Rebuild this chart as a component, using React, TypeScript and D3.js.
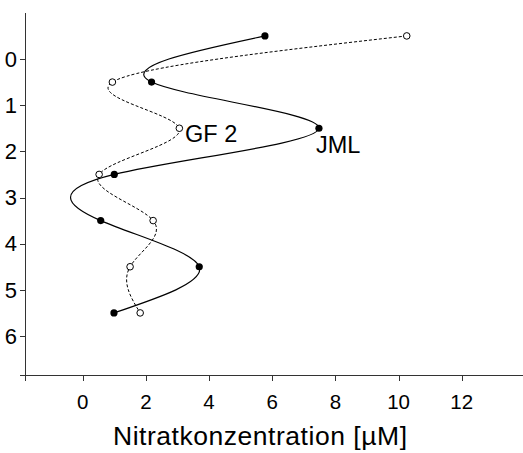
import React from "react";
import * as d3 from "d3";

const depths = [-0.5, 0.5, 1.5, 2.5, 3.5, 4.5, 5.5];
const jml = [5.77, 2.18, 7.48, 1.0, 0.57, 3.69, 0.99];
const gf2 = [10.26, 0.94, 3.06, 0.52, 2.23, 1.5, 1.82];
const xTicks = [0, 2, 4, 6, 8, 10, 12];
const yTicks = [0, 1, 2, 3, 4, 5, 6];
const xTitle = "Nitratkonzentration [µM]";

const W = 523;
const H = 453;
const FONT = "'Liberation Sans', Arial, sans-serif";

export default function App() {
  const x = d3.scaleLinear().domain([0, 12]).range([82.7, 461.7]);
  const y = d3.scaleLinear().domain([0, 6]).range([59, 336]);
  const line = d3
    .line<[number, number]>()
    .x((d) => x(d[0]))
    .y((d) => y(d[1]))
    .curve(d3.curveNatural);
  const jmlPts: [number, number][] = jml.map((v, i) => [v, depths[i]]);
  const gfPts: [number, number][] = gf2.map((v, i) => [v, depths[i]]);
  const axisColor = "#333";
  return (
    <svg
      width={W}
      height={H}
      style={{ position: "absolute", left: 0, top: 0, background: "#fff" }}
      fontFamily={FONT}
    >
      {/* axes */}
      <line x1={25.5} x2={25.5} y1={13} y2={381} stroke={axisColor} strokeWidth={1} />
      <line x1={20} x2={523} y1={375.5} y2={375.5} stroke={axisColor} strokeWidth={1} />
      {yTicks.map((t) => (
        <g key={"y" + t}>
          <line x1={20} x2={25.5} y1={Math.round(y(t)) + 0.5} y2={Math.round(y(t)) + 0.5} stroke={axisColor} />
          <text x={17} y={y(t) + 7.8} fontSize={22} textAnchor="end" fill="#000">
            {t}
          </text>
        </g>
      ))}
      {xTicks.map((t) => (
        <g key={"x" + t}>
          <line x1={Math.round(x(t)) + 0.5} x2={Math.round(x(t)) + 0.5} y1={375.5} y2={381} stroke={axisColor} />
          <text x={x(t)} y={409} fontSize={20.5} textAnchor="middle" fill="#000">
            {t}
          </text>
        </g>
      ))}
      <text x={260} y={445} fontSize={26.5} textAnchor="middle" fill="#000" textLength={294} lengthAdjust="spacing">
        {xTitle}
      </text>

      {/* lines */}
      <path d={line(gfPts) || ""} fill="none" stroke="#000" strokeWidth={1} strokeDasharray="3,2" />
      <path d={line(jmlPts) || ""} fill="none" stroke="#000" strokeWidth={1.2} />

      {/* markers */}
      {gfPts.map((p, i) => (
        <circle key={"g" + i} cx={x(p[0])} cy={y(p[1])} r={3.3} fill="#fff" stroke="#000" strokeWidth={1} />
      ))}
      {jmlPts.map((p, i) => (
        <circle key={"j" + i} cx={x(p[0])} cy={y(p[1])} r={3.6} fill="#000" />
      ))}

      {/* series labels */}
      <text x={185} y={142} fontSize={23.5} fill="#000">GF 2</text>
      <text x={316} y={153} fontSize={23.5} fill="#000">JML</text>
    </svg>
  );
}
